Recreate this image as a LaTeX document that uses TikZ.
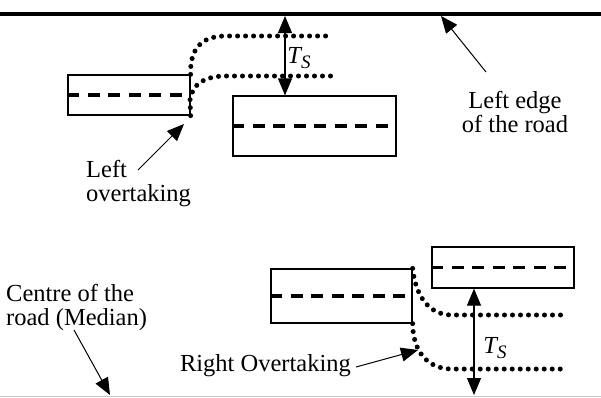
\documentclass[tikz,border=0pt]{standalone}
\usepackage{fontspec}
\setmainfont{Liberation Serif}
\usetikzlibrary{arrows.meta}
\tikzset{
  car/.style={draw, line width=1.2pt, inner sep=0pt},
  lane/.style={line width=3.4pt, dash pattern=on 12pt off 8.5pt},
  track/.style={line width=5pt, line cap=round, dash pattern=on 0pt off 8pt},
  pointer/.style={line width=1pt, -{Triangle[width=14pt,length=17pt]}},
  gap/.style={line width=1.1pt, {Triangle[width=14pt,length=17pt]}-{Triangle[width=14pt,length=17pt]}},
  txt/.style={font=\fontsize{24.5}{24}\selectfont, inner sep=0pt}
}
\begin{document}
\begin{tikzpicture}[x=1pt,y=-1pt]
\useasboundingbox (0,0) rectangle (601,397);

% road edges
\coordinate (edgeL) at (0,14);
\coordinate (edgeR) at (601,14);
\coordinate (medL) at (0,396);
\coordinate (medR) at (601,396);
\draw[line width=4pt] (edgeL) -- (edgeR);
\draw[line width=1pt, black!22] (medL) -- (medR);

% vehicles
\node[car, minimum width=122pt, minimum height=40pt] (car1) at (129,95) {};
\node[car, minimum width=163pt, minimum height=60pt] (car2) at (314.5,126) {};
\node[car, minimum width=141pt, minimum height=54pt] (car3) at (341.5,296) {};
\node[car, minimum width=142pt, minimum height=41pt] (car4) at (503,267.5) {};

\draw[lane] (car1.west) -- (car1.east);
\draw[lane] (car2.west) -- (car2.east);
\draw[lane] (car3.west) -- (car3.east);
\draw[lane] (car4.west) -- (car4.east);

% overtaking paths
\draw[track] (car1.north east) .. controls (190,50) and (200,36) .. (226,36) -- (332,36);
\draw[track] (car1.south east) -- (190,100) .. controls (192,84) and (205,76) .. (226,76) -- (332,76);
\draw[track] (car3.north east) .. controls (416,298) and (430,315) .. (452,315) -- (566,315);
\draw[track] (car3.south east) .. controls (413,352) and (428,369) .. (452,369) -- (566,369);

% clearances
\coordinate (ts1top) at (285,16);
\coordinate (ts2bot) at (474,395);
\draw[gap] (ts1top) -- (car2.north -| ts1top);
\draw[gap] (car4.south -| ts2bot) -- (ts2bot);
\node[txt] (ts1) at (299,58) {\textit{T}\kern-1.5pt\raisebox{-5pt}{\fontsize{19}{19}\selectfont\textit{S}}};
\node[txt] (ts2) at (495,348) {\textit{T}\kern-1.5pt\raisebox{-5pt}{\fontsize{19}{19}\selectfont\textit{S}}};

% labels
\node[txt, align=center] (edgetxt) at (515,112) {Left edge\\of the road};
\node[txt, align=left, anchor=west] (lefttxt) at (86,184) {Left\\overtaking};
\node[txt, align=left, anchor=west] (medtxt) at (6,307) {Centre of the\\road (Median)};
\node[txt, anchor=east] (righttxt) at (351,366) {Right Overtaking};

\coordinate (a1) at (486,72);
\coordinate (a1tip) at (441,16);
\coordinate (a2) at (138,170);
\coordinate (a2tip) at (184,124);
\coordinate (a3) at (74,330);
\coordinate (a3tip) at (110,395);
\coordinate (a4) at (356,367);
\coordinate (a4tip) at (418,350);
\draw[pointer] (a1) -- (a1tip);
\draw[pointer] (a2) -- (a2tip);
\draw[pointer] (a3) -- (a3tip);
\draw[pointer] (a4) -- (a4tip);
\end{tikzpicture}
\end{document}
